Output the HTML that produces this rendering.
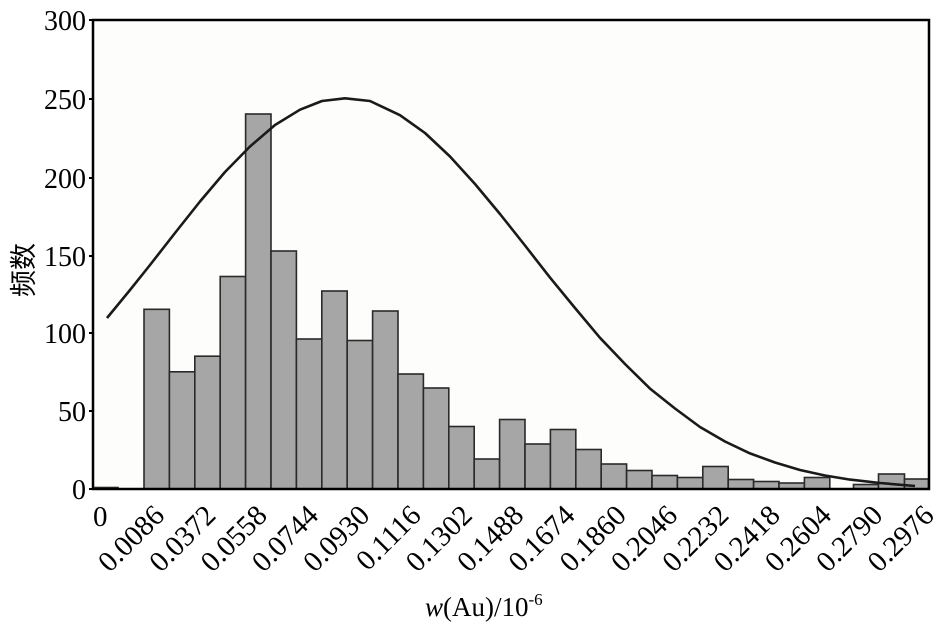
<!DOCTYPE html>
<html><head><meta charset="utf-8"><style>
html,body{margin:0;padding:0;background:#fff;}
svg{display:block;}
text{font-family:"Liberation Serif","Noto Serif CJK SC",serif;fill:#000;}
</style></head><body>
<svg width="945" height="629" viewBox="0 0 945 629" xmlns="http://www.w3.org/2000/svg">
<rect x="93" y="20" width="836" height="469" fill="#fdfdfc"/>
<g fill="#a6a6a6" stroke="#2a2a2a" stroke-width="1.6">
<rect x="144" y="309.3" width="25.4" height="179.7"/>
<rect x="169.4" y="371.8" width="25.4" height="117.2"/>
<rect x="194.8" y="356.2" width="25.4" height="132.8"/>
<rect x="220.2" y="276.5" width="25.4" height="212.5"/>
<rect x="245.6" y="114" width="25.4" height="375"/>
<rect x="271" y="251" width="25.4" height="238"/>
<rect x="296.4" y="339" width="25.4" height="150"/>
<rect x="321.8" y="291" width="25.4" height="198"/>
<rect x="347.2" y="340.5" width="25.4" height="148.5"/>
<rect x="372.6" y="311" width="25.4" height="178"/>
<rect x="398" y="374" width="25.4" height="115"/>
<rect x="423.4" y="388" width="25.4" height="101"/>
<rect x="448.8" y="426.5" width="25.4" height="62.5"/>
<rect x="474.2" y="459" width="25.4" height="30"/>
<rect x="499.6" y="419.5" width="25.4" height="69.5"/>
<rect x="525" y="444" width="25.4" height="45"/>
<rect x="550.4" y="429.5" width="25.4" height="59.5"/>
<rect x="575.8" y="449.5" width="25.4" height="39.5"/>
<rect x="601.2" y="464" width="25.4" height="25"/>
<rect x="626.6" y="470.5" width="25.4" height="18.5"/>
<rect x="652" y="475.5" width="25.4" height="13.5"/>
<rect x="677.4" y="477.5" width="25.4" height="11.5"/>
<rect x="702.8" y="466.5" width="25.4" height="22.5"/>
<rect x="728.2" y="479.5" width="25.4" height="9.5"/>
<rect x="753.6" y="481.5" width="25.4" height="7.5"/>
<rect x="779" y="483" width="25.4" height="6"/>
<rect x="804.4" y="477.5" width="25.4" height="11.5"/>
<rect x="853.5" y="484.5" width="25" height="4.5"/>
<rect x="878.5" y="474" width="26" height="15"/>
<rect x="904.5" y="479" width="24" height="10"/>
<rect x="95" y="487.5" width="23" height="1.5"/>
</g>
<polyline fill="none" stroke="#1a1a1a" stroke-width="2.6" stroke-linejoin="round" points="107,318 130,290 150,265 175,233 200,201.5 225,172 250,146.5 275,125 300,109.7 322,101 345,98.3 370,101 400,115.2 425,133 450,156.5 475,184 500,214 525,245.5 550,277.6 575,308 600,337.8 625,364 650,388.6 675,408.5 700,427 725,441.5 750,453.4 775,462.5 800,470 825,475.5 850,479.6 880,483 915,486"/>
<path d="M93 20 H929 V489 H93 Z" fill="none" stroke="#000" stroke-width="2.5"/>
<g stroke="#000" stroke-width="2">
<line x1="89" y1="20" x2="93" y2="20"/><line x1="89" y1="99" x2="93" y2="99"/>
<line x1="89" y1="178" x2="93" y2="178"/><line x1="89" y1="256" x2="93" y2="256"/>
<line x1="89" y1="333" x2="93" y2="333"/><line x1="89" y1="411" x2="93" y2="411"/>
<line x1="89" y1="489" x2="93" y2="489"/>
</g>
<g font-size="28" text-anchor="end">
<text x="86" y="30">300</text><text x="86" y="109">250</text><text x="86" y="188">200</text>
<text x="86" y="266">150</text><text x="86" y="343">100</text><text x="86" y="421">50</text>
<text x="86" y="499">0</text>
</g>
<text x="0" y="0" font-size="27" fill="#333" text-anchor="middle" transform="translate(33,270) rotate(-90)" style="font-family:'Noto Sans CJK SC',sans-serif">频数</text>
<text x="93" y="526" font-size="29">0</text>
<g font-size="29" text-anchor="end">
<text transform="translate(166,517) rotate(-45)">0.0086</text>
<text transform="translate(217.3,517) rotate(-45)">0.0372</text>
<text transform="translate(268.6,517) rotate(-45)">0.0558</text>
<text transform="translate(319.9,517) rotate(-45)">0.0744</text>
<text transform="translate(371.2,517) rotate(-45)">0.0930</text>
<text transform="translate(422.5,517) rotate(-45)">0.1116</text>
<text transform="translate(473.8,517) rotate(-45)">0.1302</text>
<text transform="translate(525.1,517) rotate(-45)">0.1488</text>
<text transform="translate(576.4,517) rotate(-45)">0.1674</text>
<text transform="translate(627.7,517) rotate(-45)">0.1860</text>
<text transform="translate(679,517) rotate(-45)">0.2046</text>
<text transform="translate(730.3,517) rotate(-45)">0.2232</text>
<text transform="translate(781.6,517) rotate(-45)">0.2418</text>
<text transform="translate(832.9,517) rotate(-45)">0.2604</text>
<text transform="translate(884.2,517) rotate(-45)">0.2790</text>
<text transform="translate(935.5,517) rotate(-45)">0.2976</text>
</g>
<text x="425" y="616" font-size="27"><tspan font-style="italic">w</tspan>(Au)/10<tspan font-size="17" dy="-11">-6</tspan></text>
</svg>
</body></html>
